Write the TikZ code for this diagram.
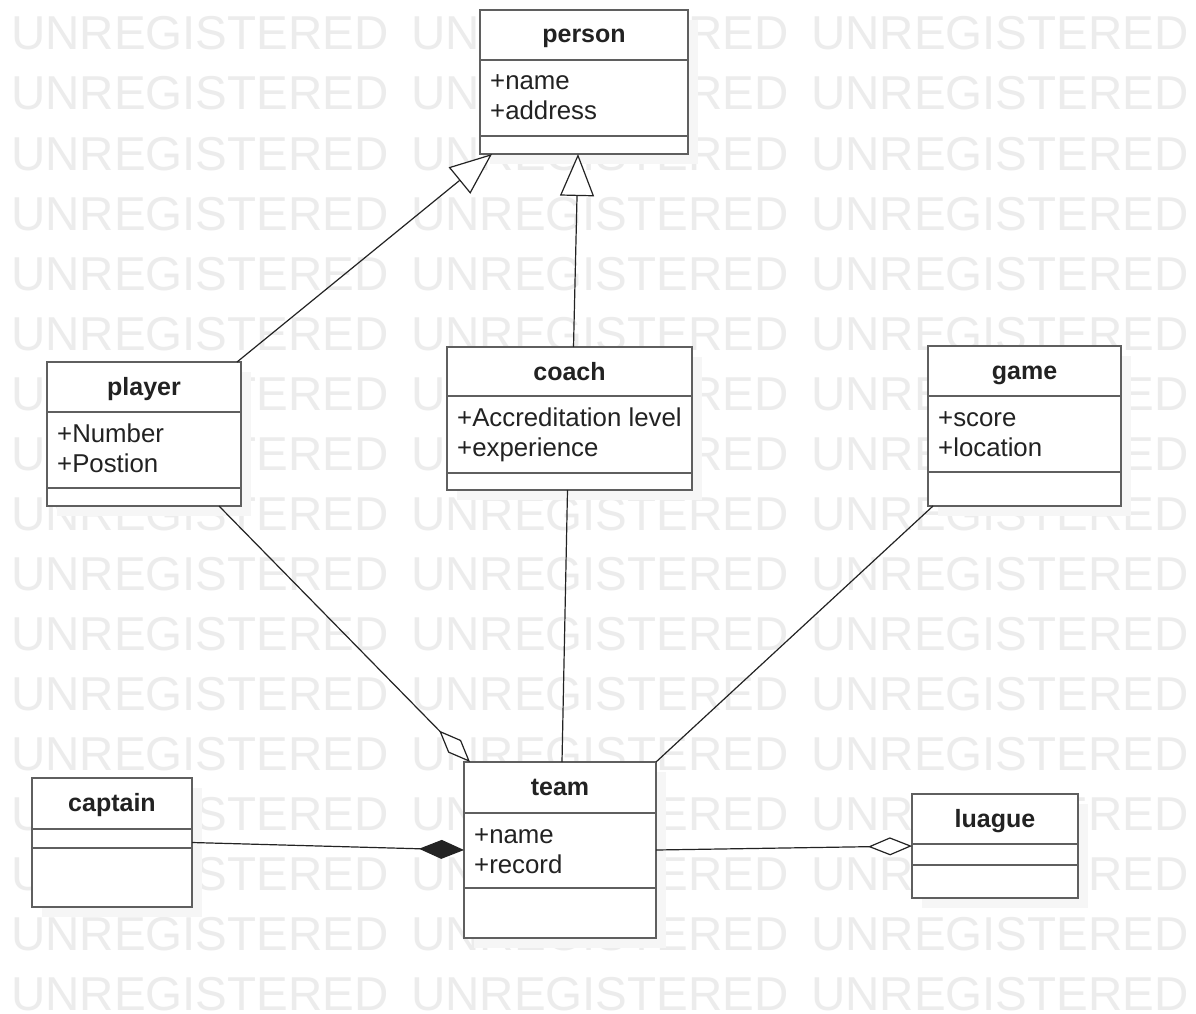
\documentclass[tikz,border=0pt]{standalone}
\usepackage{fontspec}
\setmainfont{Liberation Sans}
\usetikzlibrary{arrows.meta}
\definecolor{wmc}{RGB}{236,236,236}
\definecolor{boxc}{RGB}{95,95,95}
\definecolor{linec}{RGB}{35,35,35}
\definecolor{shadc}{RGB}{246,246,246}
\definecolor{txtc}{RGB}{34,34,34}

\tikzset{
  classbox/.style={draw=boxc, line width=2.4pt, fill=white, rectangle, inner sep=0pt, outer sep=0pt},
  compline/.style={draw=boxc, line width=2.4pt},
  classtitle/.style={font=\bfseries\fontsize{25}{30}\selectfont, text=txtc, anchor=base, inner sep=0pt},
  attrtext/.style={font=\fontsize{25.8}{30}\selectfont, text=txtc, anchor=base west, inner sep=0pt},
  wmtext/.style={font=\fontsize{47.5}{50}\selectfont, text=wmc, anchor=base west, inner sep=0pt},
  conn/.style={draw=linec, line width=1.2pt},
  gen/.style={conn, -{Triangle[length=42pt,width=34pt,fill=white]}},
  agg/.style={conn, -{Diamond[length=44pt,width=18pt,fill=white]}},
  comp/.style={conn, -{Diamond[length=45pt,width=19pt]}},
}

% #1 name, #2 left, #3 top, #4 right, #5 bottom, #6 header y, #7 separator y, #8 title
\newcommand\umlclassbox[8]{%
  \fill[shadc] (#2+10,#3+10) rectangle (#4+10,#5+10);
  \node[classbox, minimum width={(#4-#2)*1pt}, minimum height={(#5-#3)*1pt}]
    (#1) at ({(#2+#4)/2},{(#3+#5)/2}) {};
  \draw[compline] (#2,#6) -- (#4,#6);
  \draw[compline] (#2,#7) -- (#4,#7);
  \node[classtitle] (#1-title) at ({(#2+#4)/2},#3+33) {#8};
}
% #1 name, #2 left, #3 header y, #4 first, #5 second
\newcommand\umlattrs[5]{%
  \node[attrtext] (#1-a1) at (#2+10,#3+30) {#4};
  \node[attrtext] (#1-a2) at (#2+10,#3+60) {#5};
}

\begin{document}
\begin{tikzpicture}[x=1pt,y=-1pt]
\useasboundingbox (0,0) rectangle (1196,1014);
\fill[white] (0,0) rectangle (1196,1014);

% watermark
\foreach \r in {0,...,16}{
  \foreach \c in {0,1,2}{
    \node[wmtext] (wm-\r-\c) at (11+400*\c, 50+60*\r) {UNREGISTERED};
  }
}

% classes
\umlclassbox{person}{480}{10}{688}{154}{60}{136}{person}
\umlattrs{person}{480}{60}{+name}{+address}

\umlclassbox{player}{47}{362}{241}{506}{412}{488}{player}
\umlattrs{player}{47}{412}{+Number}{+Postion}

\umlclassbox{coach}{447}{347}{692}{490}{396}{473}{coach}
\umlattrs{coach}{447}{396}{+Accreditation level}{+experience}

\umlclassbox{game}{928}{346}{1121}{506}{396}{472}{game}
\umlattrs{game}{928}{396}{+score}{+location}

\umlclassbox{team}{464}{762}{656}{938}{813}{888}{team}
\umlattrs{team}{464}{813}{+name}{+record}

\umlclassbox{captain}{32}{778}{192}{907}{829}{848}{captain}

\umlclassbox{luague}{912}{794}{1078}{898}{844}{865}{luague}

% connectors
\draw[gen] ([xshift=-4pt]player.north east) -- ([xshift=12pt]person.south west);
\draw[gen] ([xshift=4pt]coach.north) -- ([xshift=-6pt]person.south);
\draw[agg] ([xshift=-22pt]player.south east) -- ([xshift=6pt]team.north west);
\draw[conn] ([xshift=-2pt]coach.south) -- ([xshift=2pt]team.north);
\draw[conn] ([xshift=5pt]game.south west) -- (team.north east);
\draw[comp] (captain.east) -- (team.west);
\draw[agg] (team.east) -- (luague.west);
\end{tikzpicture}
\end{document}
